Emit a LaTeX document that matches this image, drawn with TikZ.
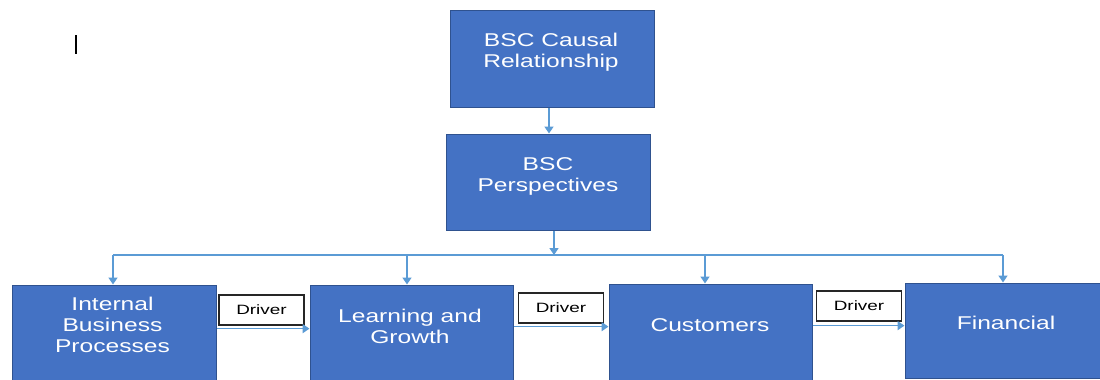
\documentclass[tikz,border=0pt]{standalone}
\usepackage{fontspec}
\usetikzlibrary{arrows.meta}
\newfontfamily\boxfont[FakeStretch=1.33]{Liberation Sans}
\newfontfamily\tagfont[FakeStretch=1.4]{Liberation Sans}
\definecolor{boxblue}{HTML}{4472C4}
\definecolor{boxedge}{HTML}{2F528F}
\definecolor{linkblue}{HTML}{5B9BD5}
\begin{document}
\begin{tikzpicture}[x=1pt,y=-1pt,
  block/.style={draw=boxedge,fill=boxblue,line width=1pt,rectangle,inner sep=0pt},
  blocktext/.style={text=white,align=center,inner sep=0pt,
    font=\boxfont\fontsize{18.5}{21}\selectfont},
  tagbox/.style={draw=black!85,fill=white,line width=1.3pt,minimum width=85pt,
    minimum height=30pt,inner sep=0pt,font=\tagfont\fontsize{13.5}{15}\selectfont},
  link/.style={draw=linkblue,line width=1.5pt},
  arr/.style={link,-{Triangle[width=9pt,length=7pt]}}]
\useasboundingbox (0,0) rectangle (1100,380);
\path[clip] (0,0) rectangle (1100,380);
\fill[white] (0,0) rectangle (1100,380);

% text cursor mark
\draw[black,line width=1.2pt] (76,35) -- (76,54);

% blocks
\node[block,minimum width=204pt,minimum height=97pt] (top) at (552,58.5) {};
\node[block,minimum width=204pt,minimum height=96pt] (persp) at (548.5,182) {};
\node[block,minimum width=204pt,minimum height=100pt] (ibp) at (114,335) {};
\node[block,minimum width=203pt,minimum height=100pt] (lg) at (411.5,335) {};
\node[block,minimum width=203pt,minimum height=100pt] (cust) at (710.5,334) {};
\node[block,minimum width=200pt,minimum height=95pt] (fin) at (1005,330.5) {};

% block labels
\node[blocktext] (topt) at (551,52) {BSC Causal\\Relationship};
\node[blocktext] (perspt) at (548,176.5) {BSC\\Perspectives};
\node[blocktext] (ibpt) at (112.5,325) {Internal\\Business\\Processes};
\node[blocktext] (lgt) at (410,326) {Learning and\\Growth};
\node[blocktext] (custt) at (710,325) {Customers};
\node[blocktext] (fint) at (1006,323) {Financial};

% driver tags
\node[tagbox] (d1) at (261.5,310) {Driver};
\node[tagbox] (d2) at (561,308) {Driver};
\node[tagbox] (d3) at (859,306) {Driver};

% top-down links
\draw[arr] ([xshift=-3pt]top.south) -- ([xshift=0.5pt]persp.north);
\coordinate (jp) at (554,255);
\coordinate (j1) at (113,255);
\coordinate (j2) at (407,255);
\coordinate (j3) at (705,255);
\coordinate (j4) at (1003,255);
\draw[link] (j1) -- (j4);
\draw[arr] (jp |- persp.south) -- (jp);
\draw[arr] (j1) -- (j1 |- ibp.north);
\draw[arr] (j2) -- (j2 |- lg.north);
\draw[arr] (j3) -- (j3 |- cust.north);
\draw[arr] (j4) -- (j4 |- fin.north);

% driver links
\draw[arr] ([yshift=-3pt]d1.south -| ibp.east) -- ([yshift=-3pt]d1.south -| lg.west);
\draw[arr] ([yshift=-3pt]d2.south -| lg.east) -- ([yshift=-3pt]d2.south -| cust.west);
\draw[arr] ([yshift=-4pt]d3.south -| cust.east) -- ([yshift=-4pt]d3.south -| fin.west);
\end{tikzpicture}
\end{document}
